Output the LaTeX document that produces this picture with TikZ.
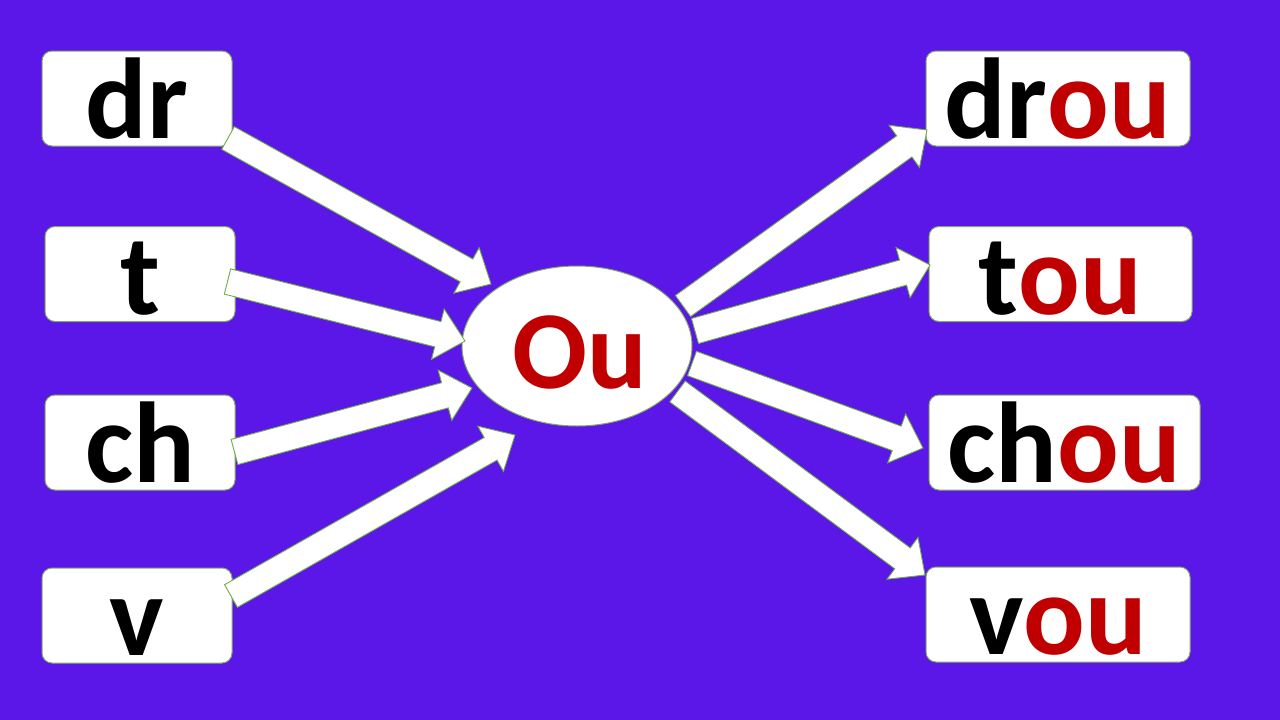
\documentclass[tikz,border=0pt]{standalone}
\usepackage{fontspec}
\setmainfont{Carlito}
\usetikzlibrary{calc,shapes.geometric}
\definecolor{bgpurple}{RGB}{91,22,232}
\definecolor{ored}{RGB}{192,0,0}
\definecolor{agreen}{RGB}{112,173,71}
\definecolor{bgreen}{RGB}{130,170,100}
\tikzset{
  lbox/.style={draw=bgreen, line width=1pt, fill=white, rounded corners=10pt,
    minimum height=95pt, inner sep=0pt, font=\fontsize{115}{120}\selectfont\bfseries,
    text height=80pt, text depth=0pt},
  oval/.style={ellipse, draw=bgreen, line width=1pt, fill=white, inner sep=0pt,
    minimum width=230pt, minimum height=160pt,
    font=\fontsize{111}{120}\selectfont\bfseries, text=ored,
    text height=84pt, text depth=0pt},
  blockarr/.style={draw=agreen, line width=0.9pt, fill=white, line join=miter}
}
\newcommand\barrow[2]{%
  \coordinate (N) at ($(#2)!28pt!(#1)$);
  \draw[blockarr] ($(#1)!13pt!90:(#2)$) -- ($(N)!13pt!90:(#2)$)
    -- ($(N)!26pt!90:(#2)$) -- (#2) -- ($(N)!26pt!-90:(#2)$)
    -- ($(N)!13pt!-90:(#2)$) -- ($(#1)!13pt!-90:(#2)$) -- cycle;
}
\begin{document}
\begin{tikzpicture}[x=1pt,y=-1pt]
\fill[bgpurple] (0,0) rectangle (1280,720);
\useasboundingbox (0,0) rectangle (1280,720);
% left boxes
\node[lbox, minimum width=190pt] (dr) at (137,98.5) {dr};
\node[lbox, minimum width=190pt] (t) at (140,274) {t};
\node[lbox, minimum width=190pt] (ch) at (140,442.5) {ch};
\node[lbox, minimum width=190pt] (v) at (137,615.5) {v};
% right boxes
\node[lbox, minimum width=264pt] (drou) at (1058,98.5) {dr\textcolor{ored}{ou}};
\node[lbox, minimum width=263pt] (tou) at (1060.5,274) {t\textcolor{ored}{ou}};
\node[lbox, minimum width=271pt] (chou) at (1064.5,442.5) {ch\textcolor{ored}{ou}};
\node[lbox, minimum width=264pt] (vou) at (1058,614.5) {v\textcolor{ored}{ou}};
% center
\node[oval] (ou) at (577,346) {\hspace{6pt}Ou};
% arrow end points
\coordinate (a1) at (228,138);   \coordinate (b1) at (491,284);
\coordinate (a2) at (227.5,281.5); \coordinate (b2) at (465,341);
\coordinate (a3) at (234.5,452); \coordinate (b3) at (472,388);
\coordinate (a4) at (231,596);   \coordinate (b4) at (515,435);
\coordinate (a5) at (683,306);   \coordinate (b5) at (927,130);
\coordinate (a6) at (695,331);   \coordinate (b6) at (930,265);
\coordinate (a7) at (692,363.5); \coordinate (b7) at (923,448);
\coordinate (a8) at (677.5,391.5); \coordinate (b8) at (925,575);
\barrow{a1}{b1}
\barrow{a2}{b2}
\barrow{a3}{b3}
\barrow{a4}{b4}
\barrow{a5}{b5}
\barrow{a6}{b6}
\barrow{a7}{b7}
\barrow{a8}{b8}
\end{tikzpicture}
\end{document}
